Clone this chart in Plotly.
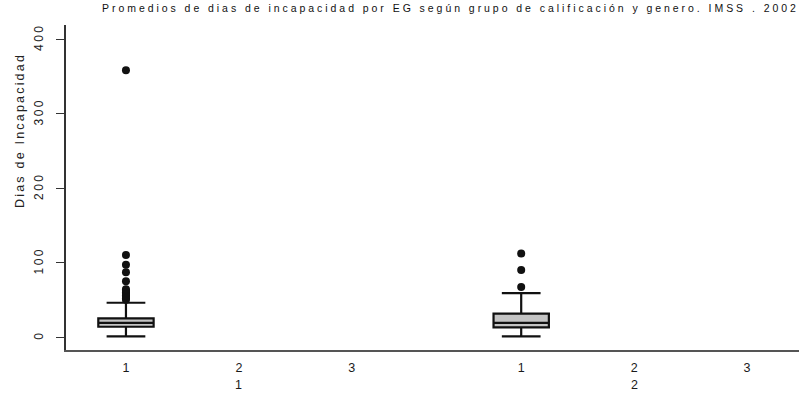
import plotly.graph_objects as go

# ---- data ----
calificacion = ["1", "2", "3"]          # inner x categories
genero = ["1", "2"]                      # outer x categories
y_ticks = [0, 100, 200, 300, 400]

# box statistics for calificacion "1" of each genero (groups 2 and 3 are empty)
q1 = [13.8, 13.0]
median = [19.0, 19.0]
q3 = [25.0, 31.5]
lower_whisker = [1.0, 1.0]
upper_whisker = [46.0, 59.0]
outliers_g1 = [50, 52, 54, 56, 58, 60, 62, 64, 75, 87, 97, 110, 358]
outliers_g2 = [67, 90, 112]
outliers = [outliers_g1, outliers_g2]

title_text = "Promedios de dias de incapacidad por EG según grupo de calificación y genero. IMSS . 2002"
ylab = "Dias de Incapacidad"

GAP = 3.5  # spacing between genero groups in axis units


def pos(g, c):
    return g * GAP + c


fig = go.Figure()
for g in range(len(genero)):
    x0 = pos(g, 0)
    fig.add_trace(go.Box(
        x=[x0], q1=[q1[g]], median=[median[g]], q3=[q3[g]],
        lowerfence=[lower_whisker[g]], upperfence=[upper_whisker[g]],
        boxpoints=False, width=0.49, whiskerwidth=0.7,
        fillcolor="#c4c4c4", line=dict(color="#111111", width=2.2),
        showlegend=False, hoverinfo="skip"))
    fig.add_trace(go.Scatter(
        x=[x0] * len(outliers[g]), y=outliers[g], mode="markers",
        marker=dict(color="#111111", size=8),
        showlegend=False, hoverinfo="skip"))

tickvals = [pos(g, c) for g in range(len(genero)) for c in range(len(calificacion))]
ticktext = [c for g in genero for c in calificacion]

font = "Liberation Sans, Arial, sans-serif"
sp = lambda t, s: f'<span style="letter-spacing:{s}px">{t}</span>'

fig.update_layout(
    width=799, height=394,
    margin=dict(l=66, r=0, t=25, b=44, autoexpand=False),
    plot_bgcolor="white", paper_bgcolor="white",
    font=dict(family=font, color="#222222", size=12),
    xaxis=dict(range=[-0.531, 5.96], tickvals=tickvals, ticktext=ticktext,
               showline=True, linecolor="#555555", linewidth=1.5,
               showgrid=False, zeroline=False, ticks="", automargin=False,
               ticklabelstandoff=5, tickfont=dict(size=12.5, color="#1a1a1a")),
    yaxis=dict(range=[-17.4, 418.8], tickvals=y_ticks,
               ticktext=[sp(str(v), 2.5) for v in y_ticks],
               tickangle=-90, ticks="outside", ticklen=8, tickcolor="#333333",
               showline=True, linecolor="#333333", linewidth=1.5, automargin=False,
               showgrid=False, zeroline=False, ticklabelstandoff=8,
               tickfont=dict(size=12, color="#222222")),
)

annotations = [
    dict(text=sp(title_text, 2.95), x=(450 - 66) / 733, y=1 + 17 / 325,
         xref="paper", yref="paper", xanchor="center", yanchor="middle",
         showarrow=False, font=dict(size=10.5, color="#111111")),
    dict(text=sp(ylab, 2.2), x=-(66 - 20) / 733, y=(350 - 130) / 325,
         xref="paper", yref="paper", xanchor="center", yanchor="middle",
         textangle=-90, showarrow=False, font=dict(size=12.5, color="#222222")),
]
for g, name in enumerate(genero):
    annotations.append(dict(text=name, x=pos(g, 1), y=-35 / 325, xref="x", yref="paper",
                            xanchor="center", yanchor="middle", showarrow=False,
                            font=dict(size=12.5, color="#1a1a1a")))
fig.update_layout(annotations=annotations)

fig.write_html("out.html", config={"displayModeBar": False},
               post_script="document.body.style.margin='0';document.body.style.overflow='hidden';")
